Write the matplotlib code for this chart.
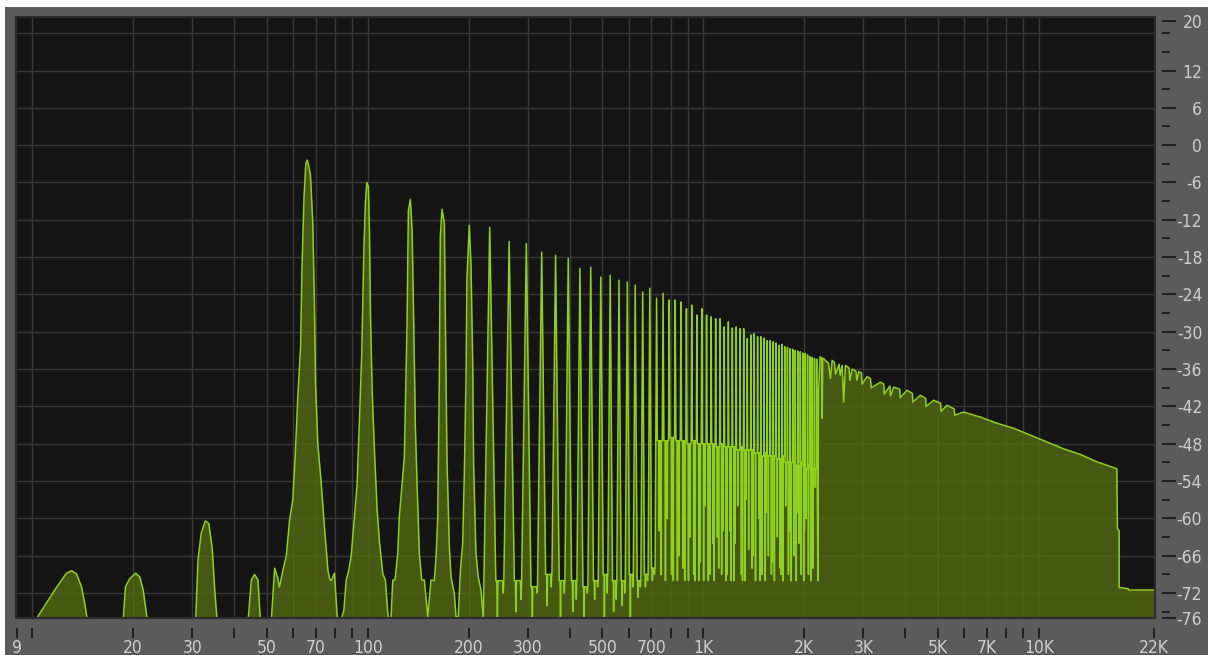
import matplotlib
matplotlib.use('Agg')
import matplotlib.pyplot as plt
import numpy as np
from matplotlib.patches import Rectangle
from matplotlib.ticker import FixedLocator, FixedFormatter

# --- spectrum below 220 Hz, traced point by point (Hz, dB) ---
low_freq = [10.19, 11.68, 12.66, 13.10, 13.56, 14.03, 14.35, 14.62, 14.9, 18.4,
            18.67, 18.97, 19.53, 20.35, 20.92, 21.42, 22.06, 22.4, 30.4,
            30.7, 31.2, 31.9, 32.8, 33.6, 34.4, 35.0, 35.6, 36.0, 43.7,
            44.0, 45.0, 46.0, 47.1, 47.9, 48.3, 51.3,
            51.6, 52.8, 53.8, 54.6, 55.9, 57.2, 58.5, 59.8, 60.8, 61.9, 63.1, 63.7,
            64.6, 65.4, 66.0, 66.6, 67.5, 68.6, 69.4, 69.9, 71.0, 72.7, 74.3, 76.1,
            76.9, 77.9, 79.6, 81.1, 83.0,
            84.9, 86.3, 87.6, 89.2, 91.3, 93.0, 94.5, 96.0, 97.4, 98.4, 99.4, 100.5,
            101.2, 101.9, 103.1, 104.7, 106.7, 108.3, 110.9, 112.9, 114.8, 116.0,
            117.4, 118.8, 120.6, 122.9, 124.2, 126.6, 128.6, 131.0, 132.2, 134.0,
            135.6, 137.2, 138.7, 140.3, 142.5, 144.9, 147.5, 151.0,
            154.4, 157.9, 159.8, 161.7, 163.5, 164.6, 166.5, 169.2, 170.3, 172.3,
            175.1, 177.1, 181.1, 183.3, 186.2, 188.8, 191.9, 194.0, 196.3, 197.6,
            200.8, 203.1, 205.5, 206.9, 210.2, 213.5, 217.5]
low_db = [-76.5, -71.5, -68.8, -68.4, -68.9, -71.0, -73.7, -76.5, -80, -80,
          -76.5, -71.0, -69.7, -68.8, -69.4, -71.5, -76.5, -80, -80,
          -76.5, -66.7, -62.4, -60.4, -60.8, -64.8, -71.5, -76.5, -80, -80,
          -76.5, -69.9, -69.0, -69.9, -76.5, -80, -80,
          -76.5, -68.0, -69.4, -71.0, -68.3, -66.0, -60.3, -57.0, -50.0, -40.5, -32.4, -19.8,
          -8.3, -3.0, -2.4, -3.2, -4.8, -12.5, -26.0, -38.3, -48.0, -54.4, -61.4, -68.3,
          -69.7, -70.0, -68.8, -75.8, -76.5,
          -74.8, -69.9, -68.6, -66.2, -59.8, -54.4, -44.2, -33.5, -16.9, -9.4, -6.0, -6.7,
          -13.7, -27.0, -39.4, -49.0, -58.7, -63.5, -68.9, -69.9, -75.3, -76.5,
          -75.8, -69.9, -69.9, -65.6, -59.8, -54.4, -50.1, -28.7, -10.5, -8.7,
          -13.7, -29.2, -45.3, -54.4, -65.6, -69.9, -69.9, -75.8,
          -69.9, -70.0, -66.4, -60.0, -37.2, -14.7, -10.3, -12.5, -27.0, -50.6,
          -64.6, -69.4, -72.0, -75.8, -75.8, -68.6, -64.0, -53.3, -37.8, -21.4,
          -12.9, -19.0, -34.6, -51.7, -65.6, -69.4, -71.5]

# --- harmonic peaks 231 Hz .. 2.2 kHz ---
harm_freq = [231, 264, 297, 330, 363, 396, 429, 462, 495, 528,
             561, 594, 627, 660, 693, 726, 759, 792, 825, 858,
             891, 924, 957, 990, 1023, 1056, 1089, 1122, 1155, 1188,
             1221, 1254, 1287, 1320, 1353, 1386, 1419, 1452, 1485, 1518,
             1551, 1584, 1617, 1650, 1683, 1716, 1749, 1782, 1815, 1848,
             1881, 1914, 1947, 1980, 2013, 2046, 2079, 2112, 2145, 2178]
harm_top = [-13.2, -15.5, -15.8, -17.2, -17.7, -18.2, -19.8, -19.6, -21.2, -20.9,
            -21.7, -22.0, -22.5, -23.6, -23.0, -24.6, -23.8, -24.9, -24.9, -25.2,
            -26.3, -25.7, -27.3, -26.3, -27.3, -27.6, -27.9, -27.9, -29.2, -28.4,
            -29.4, -29.2, -29.5, -29.5, -31.1, -30.5, -30.3, -30.8, -30.8, -31.0,
            -31.4, -31.4, -31.6, -31.8, -32.2, -32.0, -32.4, -32.5, -32.7, -32.8,
            -33.0, -33.1, -33.2, -33.4, -33.5, -33.7, -34.0, -34.1, -34.3, -34.4]
# level between a peak and the next one
harm_floor = [-70, -70, -71, -69, -70, -70, -71, -70, -69, -70,
              -70, -69, -70, -69, -68, -47.5, -47.5, -47, -47.5, -47.5,
              -48, -47.5, -48, -48, -48, -48, -48.5, -48, -48.5, -48.5,
              -48.5, -49, -48.5, -49, -49, -49, -49.5, -49.5, -50, -49.5,
              -50, -50, -50, -50.5, -50.5, -50, -51, -51, -51, -51,
              -51.5, -51.5, -51, -51.5, -52, -51.5, -52, -52, -52, -52]
# two deepest points inside that gap
harm_dip = [-76, -75, -76, -74, -76, -75, -76, -73, -76, -75,
            -74, -76, -72.7, -71, -70, -62, -70, -69, -70, -68,
            -70, -69, -70, -70, -70, -64, -63, -69, -70, -62,
            -70, -58, -69, -70, -65, -68, -70, -60, -69, -70,
            -66, -69, -70, -63, -68, -70, -58, -69, -70, -66,
            -70, -64, -69, -70, -60, -69, -70, -68, -55, -70]
harm_dip2 = [-72, -73, -72, -71, -72, -73, -72, -71, -72, -73,
             -72, -71, -71, -70, -69, -69, -60, -70, -66, -70,
             -63, -70, -67, -58, -69, -70, -68, -62, -69, -70,
             -64, -49, -70, -57, -49, -66, -49.5, -70, -49.5, -59,
             -50, -67, -50, -50.5, -69, -50, -51, -62, -51, -51,
             -59, -51.5, -51, -62, -52, -51.5, -58, -52, -52, -52]

# --- upper band, 2.2 kHz .. 22 kHz ---
hi_freq = [2185, 2196, 2205, 2230, 2255, 2262, 2270, 2287, 2330, 2360, 2394, 2422,
           2460, 2480, 2540, 2560, 2594, 2622, 2653, 2720, 2735, 2780, 2850, 2870,
           2907, 2960, 2975, 3079, 3150, 3165, 3373, 3450, 3465, 3600, 3615, 3695,
           3850, 3865, 4050, 4200, 4215, 4436, 4600, 4615, 4860, 5100, 5115, 5327,
           5600, 5615, 5968, 6693, 7506, 8409, 9428,
           10571, 11845, 13283, 14893, 17083, 17154, 17356, 17356, 18493, 18493, 22300]
hi_db = [-52, -70, -40, -34.0, -34.2, -43.9, -34.3, -34.3, -34.8, -35.0, -37.5, -34.6,
         -34.9, -36.8, -35.2, -37.0, -35.4, -41.3, -35.4, -35.8, -37.8, -36.0, -36.3, -37.8,
         -36.4, -36.6, -38.4, -37.2, -37.5, -39.0, -38.1, -38.4, -40.0, -38.7, -40.3, -38.9,
         -39.2, -40.6, -39.4, -39.9, -41.3, -40.2, -40.7, -42.0, -41.0, -41.5, -42.8, -41.8,
         -42.4, -43.4, -42.9, -43.7, -44.7, -45.5, -46.6,
         -47.7, -48.8, -49.7, -50.9, -52.0, -61.6, -62.0, -71.1, -71.3, -71.5, -71.5]

x_ticks = [9, 10, 20, 30, 40, 50, 60, 70, 80, 90, 100, 200, 300, 400, 500, 600, 700,
           800, 900, 1000, 2000, 3000, 4000, 5000, 6000, 7000, 8000, 9000, 10000, 22000]
x_labels = ['9', '', '20', '30', '', '50', '', '70', '', '', '100', '200', '300', '',
            '500', '', '700', '', '', '1K', '2K', '3K', '', '5K', '', '7K', '', '', '10K', '22K']
y_ticks = [20, 12, 6, 0, -6, -12, -18, -24, -30, -36, -42, -48, -54, -60, -66, -72, -76]
y_minor = [18, 15, 9, 3, -3, -9, -15, -21, -27, -33, -39, -45, -51, -57, -63, -69, -75]
grid_db = [18, 12, 6, 0, -6, -12, -18, -24, -30, -36, -42, -48, -54, -60, -66, -72]

# build the harmonic part of the trace
SLOPE = 190.0  # flank steepness in dB per harmonic spacing
sp = harm_freq[1] - harm_freq[0]
harm_f, harm_d = [], []
prev_floor = -76.0
for i, f in enumerate(harm_freq):
    top = harm_top[i]
    fl = harm_floor[i]
    wl = min((top - prev_floor) / SLOPE, 0.3)
    wr = min((top - fl) / SLOPE, 0.3)
    harm_f += [f - wl * sp, f, f + wr * sp]
    harm_d += [prev_floor, top, fl]
    if i < len(harm_freq) - 1:
        for pos, dip in ((0.38, harm_dip[i]), (0.68, harm_dip2[i])):
            if dip < fl - 0.6:
                c = f + pos * sp
                harm_f += [c - 0.03 * sp, c, c + 0.03 * sp]
                harm_d += [fl, dip, fl]
    prev_floor = fl

freq = np.array(low_freq + harm_f + hi_freq)
db = np.array(low_db + harm_d + hi_db)

W, H = 1208, 655
fig = plt.figure(figsize=(W / 100, H / 100), dpi=100, facecolor='white')
panel = Rectangle((5 / W, 0), 1, 1 - 7 / H, transform=fig.transFigure,
                  facecolor='#5b5b5b', edgecolor='none', zorder=-10)
fig.add_artist(panel)
ax = fig.add_axes([16 / W, 1 - 618 / H, (1155 - 16) / W, (618 - 17) / H])
ax.set_zorder(1)
ax.set_facecolor('#151515')
ax.set_xscale('log')
ax.set_xlim(8.95, 22200)
ax.set_ylim(-76, 20.6)

for g in grid_db:
    ax.axhline(g, color='#393939', lw=1.0, zorder=1)
for t in x_ticks[1:-1]:
    ax.axvline(t, color='#393939', lw=1.0, zorder=1)

ax.fill_between(freq, db, -80, color='#51690f', alpha=0.82, lw=0, zorder=2)
ax.plot(freq, db, color='#8fd21c', lw=1.1, zorder=3)

# frame
ax.add_patch(Rectangle((0, 0), 1, 1, transform=ax.transAxes, fill=False,
                       edgecolor='#2c2c2c', lw=1.5, zorder=5, clip_on=False))
for s in ax.spines.values():
    s.set_visible(False)
ax.spines['bottom'].set_position(('outward', 7))
ax.spines['right'].set_position(('outward', 5))

ax.xaxis.set_major_locator(FixedLocator(x_ticks))
ax.xaxis.set_major_formatter(FixedFormatter(x_labels))
ax.xaxis.set_minor_locator(FixedLocator([]))
ax.tick_params(axis='x', direction='out', length=7, width=1.4, color='#1e1e1e',
               pad=1, labelcolor='#cfcfcf')
ax.yaxis.tick_right()
ax.yaxis.set_major_locator(FixedLocator(y_ticks))
ax.yaxis.set_major_formatter(FixedFormatter([str(v) for v in y_ticks]))
ax.yaxis.set_minor_locator(FixedLocator(y_minor))
ax.tick_params(axis='y', which='major', direction='out', length=10, width=1.4,
               color='#1e1e1e', pad=19, labelcolor='#cfcfcf')
ax.tick_params(axis='y', which='minor', direction='out', length=6, width=1.4,
               color='#1e1e1e')
for lab in ax.get_xticklabels() + ax.get_yticklabels():
    lab.set_fontfamily('DejaVu Sans')
    lab.set_fontstretch('condensed')
    lab.set_fontsize(12.5)
for lab in ax.get_yticklabels():
    lab.set_horizontalalignment('right')

fig.savefig('out.png', dpi=100, facecolor='white')
